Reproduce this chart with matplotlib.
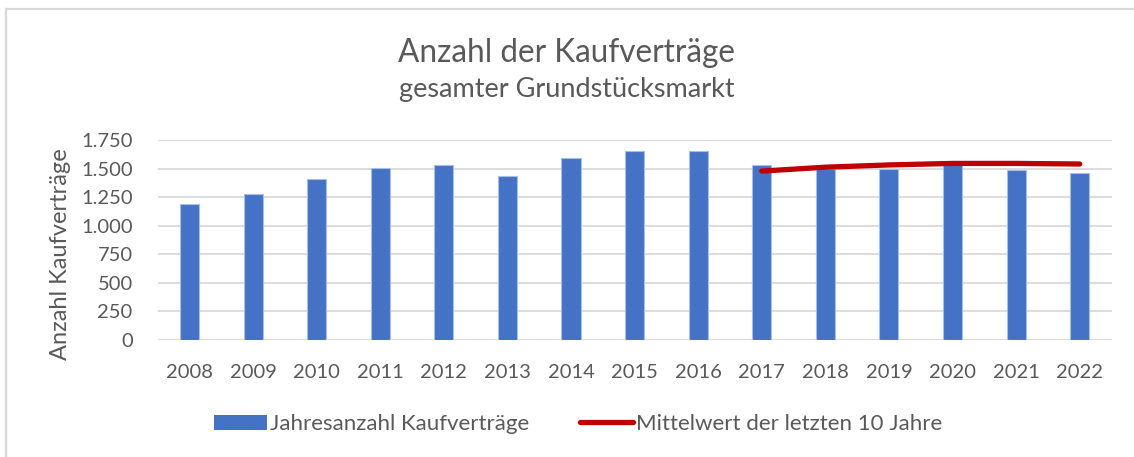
import matplotlib.pyplot as plt
from matplotlib.lines import Line2D
from matplotlib.patches import Patch

# data
years = ['2008', '2009', '2010', '2011', '2012', '2013', '2014', '2015',
         '2016', '2017', '2018', '2019', '2020', '2021', '2022']
contracts = [1190, 1276, 1405, 1501, 1530, 1436, 1592, 1650,
             1650, 1528, 1495, 1498, 1530, 1486, 1463]
mean_years = ['2017', '2018', '2019', '2020', '2021', '2022']
mean_values = [1478, 1512, 1532, 1545, 1545, 1540]
yticks = [0, 250, 500, 750, 1000, 1250, 1500, 1750]
ytick_labels = ['0', '250', '500', '750', '1.000', '1.250', '1.500', '1.750']

plt.rcParams['font.family'] = ['Lato', 'DejaVu Sans']
text_col = '#595959'
bar_col = '#4472C4'
line_col = '#C00000'
W, H = 1134, 457

fig = plt.figure(figsize=(W / 100, H / 100), dpi=100)
ax = fig.add_axes([157.7 / W, 1 - 340 / H, (1111.5 - 157.7) / W, 200 / H])

# chart frame (only top and left edges are inside the crop)
fig.add_artist(Line2D([6 / W, 1], [1 - 8.5 / H, 1 - 8.5 / H],
                      transform=fig.transFigure, color='#D9D9D9', linewidth=1.6))
fig.add_artist(Line2D([6 / W, 6 / W], [0, 1 - 8.5 / H],
                      transform=fig.transFigure, color='#D9D9D9', linewidth=1.6))

x = list(range(len(years)))
ax.bar(x, contracts, width=0.30, color=bar_col, edgecolor='#A9BEE6',
       linewidth=0.8, zorder=2)
mx = [years.index(y) for y in mean_years]
ax.plot(mx, mean_values, color=line_col, linewidth=3.8,
        solid_capstyle='round', zorder=3)

ax.set_xlim(-0.5, len(years) - 0.5)
ax.set_ylim(0, 1750)
ax.set_yticks(yticks)
ax.set_yticklabels(ytick_labels)
ax.set_xticks(x)
ax.set_xticklabels(years)
ax.grid(axis='y', color='#D9D9D9', linewidth=1.3, zorder=0)
for s in ax.spines.values():
    s.set_visible(False)
ax.tick_params(length=0, labelsize=14.5, colors=text_col)
ax.tick_params(axis='x', pad=17.5)
ax.tick_params(axis='y', pad=18)
ax.set_ylabel('Anzahl Kaufverträge', fontsize=17, color=text_col)
ax.yaxis.set_label_coords(-(158 - 71) / (1111.5 - 157.7), 0.43)

fig.text(0.5, 1 - 62 / H, 'Anzahl der Kaufverträge', ha='center',
         va='baseline', fontsize=22.7, color=text_col)
fig.text(0.5, 1 - 97 / H, 'gesamter Grundstücksmarkt', ha='center',
         va='baseline', fontsize=19.5, color=text_col)

handles = [Patch(facecolor=bar_col, edgecolor='none'),
           Line2D([0], [0], color=line_col, linewidth=3.8,
                  solid_capstyle='round')]
fig.legend(handles, ['Jahresanzahl Kaufverträge',
                     'Mittelwert der letzten 10 Jahre'],
           loc='center', bbox_to_anchor=(578 / W, 1 - 424 / H), ncol=2,
           frameon=False, fontsize=16, labelcolor=text_col,
           handlelength=2.4, handleheight=0.65, handletextpad=0.1,
           columnspacing=2.3, borderpad=0, borderaxespad=0)

fig.savefig('out.png', dpi=100)
